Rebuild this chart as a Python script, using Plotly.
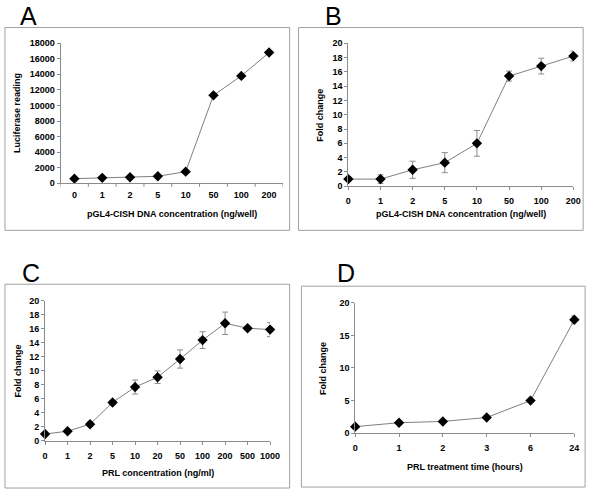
import plotly.graph_objects as go

# --- data ---
dna_conc = ["0", "1", "2", "5", "10", "50", "100", "200"]
luciferase = [600, 700, 780, 900, 1500, 11300, 13800, 16800]

fold_dna = [1.0, 1.0, 2.3, 3.3, 6.0, 15.4, 16.8, 18.2]
fold_dna_err = [0.3, 0.6, 1.2, 1.4, 1.8, 0.7, 1.1, 0.7]

prl_conc = ["0", "1", "2", "5", "10", "20", "50", "100", "200", "500", "1000"]
fold_prl = [1.0, 1.4, 2.4, 5.5, 7.7, 9.1, 11.7, 14.4, 16.8, 16.1, 15.9]
fold_prl_err = [0.2, 0.2, 0.3, 0.3, 1.0, 0.9, 1.3, 1.2, 1.6, 0.3, 1.0]

prl_time = ["0", "1", "2", "3", "6", "24"]
fold_time = [1.0, 1.6, 1.8, 2.4, 5.0, 17.4]
fold_time_err = [0.1, 0.1, 0.1, 0.2, 0.2, 0.6]

W, H = 600, 494
FONT = "Liberation Sans, Arial, sans-serif"
AXIS_GRAY = "#8c8c8c"


def px(x):
    return x / W


def py(y):
    return 1 - y / H


fig = go.Figure()

# plot areas in pixels: x=(left, right), y=(top, bottom)
panels = {
    "A": dict(x=(58.8, 286.2), y=(39, 182), box=(2, 23, 293, 230),
              label=(26, 11), xtitle=213, ytitle=15),
    "B": dict(x=(353, 583), y=(39, 185), box=(302, 23, 593, 230),
              label=(338, 11), xtitle=213, ytitle=324),
    "C": dict(x=(43, 273), y=(302, 445), box=(2, 285, 293, 493),
              label=(29, 274), xtitle=478, ytitle=15),
    "D": dict(x=(360, 584), y=(304, 437), box=(305, 287, 595, 492),
              label=(351, 274), xtitle=472, ytitle=327),
}

series = [
    ("A", dna_conc, luciferase, None, "pGL4-CISH DNA concentration (ng/well)",
     "Luciferase reading"),
    ("B", dna_conc, fold_dna, fold_dna_err, "pGL4-CISH DNA concentration (ng/well)",
     "Fold change"),
    ("C", prl_conc, fold_prl, fold_prl_err, "PRL concentration (ng/ml)",
     "Fold change"),
    ("D", prl_time, fold_time, fold_time_err, "PRL treatment time (hours)",
     "Fold change"),
]

layout = dict(
    width=W, height=H, margin=dict(l=0, r=0, t=0, b=0),
    paper_bgcolor="white", plot_bgcolor="white", showlegend=False,
    font=dict(family=FONT, color="black"),
)
shapes, annotations = [], []

for i, (key, cats, vals, errs, xt, yt) in enumerate(series):
    p = panels[key]
    n = i + 1
    xa = "x" if n == 1 else f"x{n}"
    ya = "y" if n == 1 else f"y{n}"

    fig.add_trace(
        go.Scatter(
            x=list(range(len(cats))),
            y=vals,
            mode="lines+markers",
            line=dict(color="#7f7f7f", width=1),
            marker=dict(symbol="diamond", size=8, color="black"),
            error_y=None if errs is None else dict(
                type="data", array=errs, color="#8c8c8c", thickness=1, width=3
            ),
            xaxis=xa,
            yaxis=ya,
            cliponaxis=False,
            hoverinfo="skip",
        )
    )

    if key == "A":
        xrange = [-0.5, len(cats) - 0.5]
        yrange, dtick = [0, 18000], 2000
    else:
        xrange = [0, len(cats) - 1]
        yrange, dtick = [0, 20], (5 if key == "D" else 2)

    common = dict(
        showgrid=False, zeroline=False, showline=True, linecolor=AXIS_GRAY,
        linewidth=1, ticks="outside", ticklen=3, tickcolor=AXIS_GRAY,
        tickfont=dict(family=FONT, size=9, color="black", weight="bold"),
        fixedrange=True,
    )
    layout["xaxis" if n == 1 else f"xaxis{n}"] = dict(
        common, domain=[px(p["x"][0]), px(p["x"][1])], range=xrange,
        tickmode="array", tickvals=list(range(len(cats))), ticktext=cats,
        anchor=ya, ticklabelstandoff=3,
    )
    if key == "A":
        # category axis: ticks sit between the categories
        layout["xaxis"]["ticks"] = ""
        for k in range(len(cats) + 1):
            shapes.append(dict(
                type="line", xref="x", yref="y domain", x0=k - 0.5, x1=k - 0.5,
                y0=0, y1=-0.025, line=dict(color=AXIS_GRAY, width=1),
            ))
    layout["yaxis" if n == 1 else f"yaxis{n}"] = dict(
        common, domain=[py(p["y"][1]), py(p["y"][0])], range=yrange,
        dtick=dtick, anchor=xa, tickformat="d",
    )

    bx0, by0, bx1, by1 = p["box"]
    shapes.append(dict(
        type="rect", xref="paper", yref="paper",
        x0=px(bx0), x1=px(bx1), y0=py(by1), y1=py(by0),
        line=dict(color="#a0a0a0", width=1),
    ))
    annotations.append(dict(
        text=key, xref="paper", yref="paper", x=px(p["label"][0]),
        y=py(p["label"][1]), showarrow=False, xanchor="center", yanchor="middle",
        font=dict(family=FONT, size=25, color="black"),
    ))
    annotations.append(dict(
        text=xt, xref="paper", yref="paper",
        x=px((p["x"][0] + p["x"][1]) / 2), y=py(p["xtitle"]),
        showarrow=False, xanchor="center", yanchor="middle",
        font=dict(family=FONT, size=9, color="black", weight="bold"),
    ))
    annotations.append(dict(
        text=yt, xref="paper", yref="paper", x=px(p["ytitle"]),
        y=py((p["y"][0] + p["y"][1]) / 2), showarrow=False, textangle=-90,
        xanchor="center", yanchor="middle",
        font=dict(family=FONT, size=9, color="black", weight="bold"),
    ))

layout["shapes"] = shapes
layout["annotations"] = annotations
fig.update_layout(**layout)

# drop the page's default body margin so the figure sits at the window origin
fig.write_html(
    "out.html",
    config={"displayModeBar": False, "staticPlot": True},
    post_script="document.body.style.margin='0';",
)
